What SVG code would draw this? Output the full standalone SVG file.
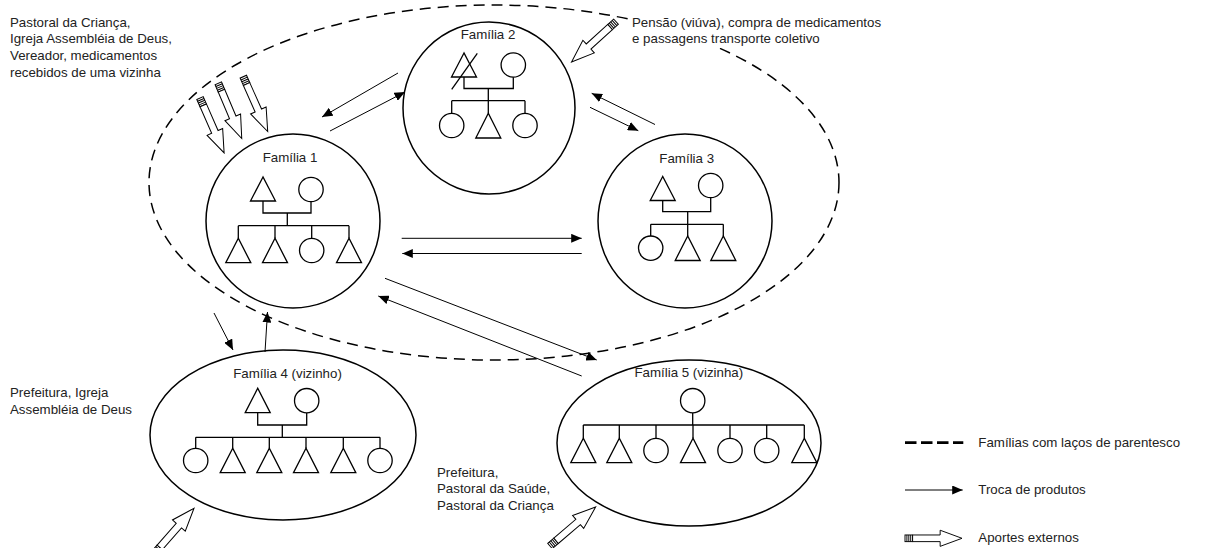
<svg xmlns="http://www.w3.org/2000/svg" xmlns:xlink="http://www.w3.org/1999/xlink" width="1211" height="548" viewBox="0 0 1211 548">
<style>
  text { font-family: "Liberation Sans", Arial, sans-serif; font-size: 13.3px; fill: #222; }
  .lbl { text-anchor: middle; }
  .big { fill: #fff; stroke: #000; stroke-width: 1.5; }
  .sym { fill: #fff; stroke: #000; stroke-width: 1.3; }
  .ln { fill: none; stroke: #000; stroke-width: 1.3; }
  .arr { fill: none; stroke: #000; stroke-width: 1; marker-end: url(#ah); }
  .kin { fill: none; stroke: #000; stroke-width: 1.5; stroke-dasharray: 11 7; }
  .pen { fill: #fff; stroke: #000; stroke-width: 1; }
</style>
<defs>
  <marker id="ah" markerUnits="userSpaceOnUse" markerWidth="11" markerHeight="9" refX="10.5" refY="4.5" orient="auto">
    <path d="M0,0 L10.5,4.5 L0,9 z" fill="#000"/>
  </marker>
  <g id="pencil">
    <rect class="pen" x="0" y="-3.5" width="8" height="7"/>
    <path class="ln" style="stroke-width:1" d="M2,-3.5 V3.5 M4,-3.5 V3.5 M6,-3.5 V3.5"/>
    <path class="pen" d="M8,-3.5 H37 V-8.5 L60,0 L37,8.5 V3.5 H8 z"/>
  </g>
</defs>

<rect width="1211" height="548" fill="#fff"/>

<!-- kinship dashed ellipse -->
<g id="parentesco">
  <ellipse class="kin" cx="494" cy="182.5" rx="345" ry="177.5"/>
</g>

<!-- external text labels -->
<g id="aportes-f1">
  <text x="10" y="26.5">Pastoral da Criança,</text>
  <text x="10" y="43.3">Igreja Assembléia de Deus,</text>
  <text x="10" y="60.1">Vereador, medicamentos</text>
  <text x="10" y="76.9">recebidos de uma vizinha</text>
  <use xlink:href="#pencil" transform="translate(200,98) rotate(66.3)"/>
  <use xlink:href="#pencil" transform="translate(218.3,83.3) rotate(67)"/>
  <use xlink:href="#pencil" transform="translate(243.3,76.7) rotate(66)"/>
</g>

<g id="aportes-f2">
  <rect x="629" y="12" width="255" height="36" fill="#fff"/>
  <text x="632" y="26.5">Pensão (viúva), compra de medicamentos</text>
  <text x="632" y="43.3">e passagens transporte coletivo</text>
  <use xlink:href="#pencil" transform="translate(616,21.7) rotate(137.8)"/>
</g>

<g id="aportes-f4">
  <text x="10" y="397">Prefeitura, Igreja</text>
  <text x="10" y="413.5">Assembléia de Deus</text>
  <use xlink:href="#pencil" transform="translate(154.5,553.4) rotate(-48.8)"/>
</g>

<g id="aportes-f5">
  <text x="437" y="476.7">Prefeitura,</text>
  <text x="437" y="493.3">Pastoral da Saúde,</text>
  <text x="437" y="510">Pastoral da Criança</text>
  <use xlink:href="#pencil" transform="translate(550,546) rotate(-40.5)"/>
</g>

<!-- Família 1 -->
<g id="familia1">
  <circle class="big" cx="293" cy="221" r="87"/>
  <text class="lbl" x="290" y="162">Família 1</text>
  <polygon class="sym" points="263,177 250.5,201 275.5,201"/>
  <circle class="sym" cx="311" cy="189.5" r="12.2"/>
  <path class="ln" d="M263,201 V213 H311 V201.7 M287.3,213 V225.7 M238.3,225.7 H349 M238.3,225.7 V238.3 M275,225.7 V238.3 M311.7,225.7 V238.3 M349,225.7 V238.3"/>
  <polygon class="sym" points="238.3,238.3 225.8,262.7 250.8,262.7"/>
  <polygon class="sym" points="275,238.3 262.5,262.7 287.5,262.7"/>
  <circle class="sym" cx="311.7" cy="250.5" r="12.2"/>
  <polygon class="sym" points="349,238.3 336.5,262.7 361.5,262.7"/>
</g>

<!-- Família 2 -->
<g id="familia2">
  <circle class="big" cx="489" cy="108" r="86"/>
  <text class="lbl" x="488" y="39.3">Família 2</text>
  <polygon class="sym" points="464,53 451.5,77 476.5,77"/>
  <path class="ln" d="M477.3,53.3 L451.7,89.3"/>
  <circle class="sym" cx="513.3" cy="65" r="12.2"/>
  <path class="ln" d="M464,77 V88.5 H513.3 V77.2 M488.3,88.5 V100.7 M451.7,100.7 H525 M451.7,100.7 V113.3 M488.3,100.7 V113.3 M525,100.7 V113.3"/>
  <circle class="sym" cx="451.7" cy="125.5" r="12.2"/>
  <polygon class="sym" points="488.3,113.3 475.8,138 500.8,138"/>
  <circle class="sym" cx="525" cy="125.5" r="12.2"/>
</g>

<!-- Família 3 -->
<g id="familia3">
  <circle class="big" cx="685" cy="221" r="87"/>
  <text class="lbl" x="686.7" y="162.7">Família 3</text>
  <polygon class="sym" points="662.7,176.5 650.2,200.5 675.2,200.5"/>
  <circle class="sym" cx="710.7" cy="185.5" r="12.2"/>
  <path class="ln" d="M662.7,200.5 V211.7 H710.7 V197.7 M687.7,211.7 V224.3 M650.7,224.3 H723.3 M650.7,224.3 V236 M687.7,224.3 V236 M723.3,224.3 V236"/>
  <circle class="sym" cx="650.7" cy="248.2" r="12.2"/>
  <polygon class="sym" points="687.7,236 675.2,260.5 700.2,260.5"/>
  <polygon class="sym" points="723.3,236 710.8,260.5 735.8,260.5"/>
</g>

<!-- Família 4 -->
<g id="familia4">
  <ellipse class="big" cx="283" cy="435" rx="133" ry="85"/>
  <text class="lbl" x="287.5" y="378.3">Família 4 (vizinho)</text>
  <polygon class="sym" points="257.7,388.3 245.2,412.7 270.2,412.7"/>
  <circle class="sym" cx="306.7" cy="400.7" r="12.2"/>
  <path class="ln" d="M257.7,412.7 V425 H306.7 V412.9 M282.3,425 V437.3 M195.7,437.3 H380 M195.7,437.3 V448.3 M232.7,437.3 V448.3 M269.3,437.3 V448.3 M306,437.3 V448.3 M343.3,437.3 V448.3 M380,437.3 V448.3"/>
  <circle class="sym" cx="195.7" cy="460.5" r="12.2"/>
  <polygon class="sym" points="232.7,448.3 220.2,472.7 245.2,472.7"/>
  <polygon class="sym" points="269.3,448.3 256.8,472.7 281.8,472.7"/>
  <polygon class="sym" points="306,448.3 293.5,472.7 318.5,472.7"/>
  <polygon class="sym" points="343.3,448.3 330.8,472.7 355.8,472.7"/>
  <circle class="sym" cx="380" cy="460.5" r="12.2"/>
</g>

<!-- Família 5 -->
<g id="familia5">
  <ellipse class="big" cx="689" cy="443" rx="132" ry="83"/>
  <text class="lbl" x="688.8" y="376.7">Família 5 (vizinha)</text>
  <circle class="sym" cx="692.7" cy="400.7" r="12.2"/>
  <path class="ln" d="M692.7,412.9 V425 M583.3,425 H804.3 M583.3,425 V438.3 M619.3,425 V438.3 M656,425 V438.3 M693,425 V438.3 M730,425 V438.3 M766.7,425 V438.3 M804.3,425 V438.3"/>
  <polygon class="sym" points="583.3,438.3 570.8,462.7 595.8,462.7"/>
  <polygon class="sym" points="619.3,438.3 606.8,462.7 631.8,462.7"/>
  <circle class="sym" cx="656" cy="450.5" r="12.2"/>
  <polygon class="sym" points="693,438.3 680.5,462.7 705.5,462.7"/>
  <circle class="sym" cx="730" cy="450.5" r="12.2"/>
  <circle class="sym" cx="766.7" cy="450.5" r="12.2"/>
  <polygon class="sym" points="804.3,438.3 791.8,462.7 816.8,462.7"/>
</g>

<!-- connectors: troca de produtos -->
<g id="connectors">
  <line class="arr" x1="398" y1="73" x2="322" y2="117"/>
  <line class="arr" x1="330" y1="131" x2="405" y2="92"/>
  <line class="arr" x1="655" y1="124.5" x2="591.7" y2="93.3"/>
  <line class="arr" x1="590" y1="107.3" x2="638.3" y2="130.7"/>
  <line class="arr" x1="401.7" y1="238.3" x2="581.7" y2="238.3"/>
  <line class="arr" x1="581.7" y1="253.5" x2="402.3" y2="253.5"/>
  <line class="arr" x1="385" y1="278.3" x2="596.7" y2="360"/>
  <line class="arr" x1="581.7" y1="376" x2="378.3" y2="296"/>
  <line class="arr" x1="214" y1="313" x2="233" y2="350"/>
  <line class="arr" x1="265" y1="352" x2="267.5" y2="312"/>
</g>

<!-- legend -->
<g id="legend">
  <path d="M905,442.7 H963.3" fill="none" stroke="#000" stroke-width="2.7" stroke-dasharray="11.5 4.5"/>
  <text x="978.3" y="446.7">Famílias com laços de parentesco</text>
  <line class="arr" x1="905" y1="490" x2="962.7" y2="490"/>
  <text x="978.3" y="494">Troca de produtos</text>
  <use xlink:href="#pencil" transform="translate(905,538.3) scale(0.95)"/>
  <text x="978.3" y="541.7">Aportes externos</text>
</g>
</svg>
